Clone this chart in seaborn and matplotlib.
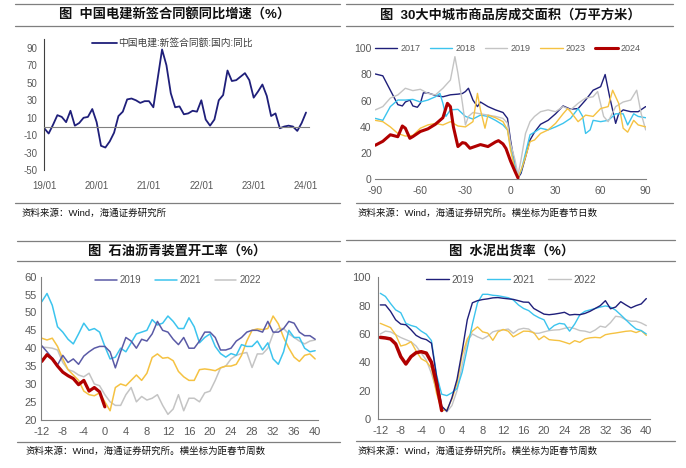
import matplotlib
matplotlib.use("Agg")
import matplotlib.pyplot as plt
import seaborn as sns
import pandas as pd
from matplotlib.lines import Line2D

sns.set_theme(style="white")
plt.rcParams["font.family"] = ["Liberation Sans", "Noto Sans CJK SC", "DejaVu Sans"]
plt.rcParams["axes.unicode_minus"] = False

# ---------------- data ----------------
# Panel 1: monthly YoY, 2019/01 .. 2024/01
p1_months = list(range(61))
p1_ticks = [0, 12, 24, 36, 48, 60]
p1_ticklabels = ["19/01", "20/01", "21/01", "22/01", "23/01", "24/01"]
p1_yoy = [-2, -8, 2, 13, 11, 5, 18, 1, 4, 10,
          11, 20, 5, -22, -24, -17, -7, 12, 17, 31,
          32, 30, 27, 29, 29, 22, 55, 88, 70, 38,
          22, 23, 14, 15, 18, 17, 30, 8, 1, 8,
          30, 36, 64, 52, 53, 57, 61, 53, 33, 40,
          48, 35, 12, 15, -2, 0, 1, 0, -5, 4, 16]

# Panel 2: 30-city housing transaction area vs. days from Spring Festival
d_2017 = [-90, -85, -80, -75, -72, -70, -67, -65, -62, -60, -58, -55, -50, -45, -40, -35, -32, -30, -28, -25,
          -22, -20, -15, -10, -5, -2, 0, 3, 5, 7, 10, 13, 16, 20, 25, 30, 35, 40, 45, 50,
          55, 60, 63, 66, 70, 72, 75, 80, 85, 90]
v_2017 = [80.4, 79, 68, 57, 56, 59, 60.5, 56, 55, 58, 66, 66, 64, 63, 64.5, 65, 65.5, 67, 69.5, 60.5,
          55.5, 59, 55.5, 53, 51, 46.5, 30, 10, 1, 4.6, 17, 30, 36, 42, 45, 50, 56, 53.5, 54, 60.5,
          68, 70.7, 80, 63, 42.7, 50, 53, 51.6, 51.6, 55.5]
d_2018 = [-90, -85, -80, -75, -70, -65, -60, -55, -50, -47, -45, -43, -40, -35, -30, -25, -20, -15, -10, -5,
          -2, 0, 3, 5, 7, 10, 13, 16, 20, 25, 30, 35, 40, 45, 48, 50, 53, 55, 60, 65,
          70, 75, 78, 82, 85, 90]
v_2018 = [46.5, 45, 55.5, 60.5, 60.5, 61, 59, 60.5, 63, 65.6, 58, 48, 53, 53.4, 48, 46, 49, 48, 45, 41.5,
          37.7, 25, 10, 2, 6, 20, 34, 36, 39, 37.7, 40, 42.7, 46.5, 54, 48, 35, 37.7, 45, 44, 45,
          50, 50, 41.5, 50, 48, 47]
d_2019 = [-90, -85, -80, -75, -70, -65, -60, -55, -50, -45, -40, -37, -35, -32, -30, -28, -25, -20, -15, -10,
          -5, -2, 0, 3, 5, 7, 10, 13, 16, 20, 25, 30, 35, 40, 45, 50, 55, 58, 62, 65,
          70, 75, 80, 84, 87, 90]
v_2019 = [53, 55.5, 62, 64.4, 69.5, 67.7, 68.7, 65.6, 64.4, 69.5, 75.8, 93.6, 81, 58, 41.5, 48, 51, 50, 49, 48,
          46.5, 42.7, 27.5, 14.8, 3.3, 14.8, 35, 44, 48, 51.6, 53, 51.6, 55.5, 53, 58, 62, 63, 67, 48, 44,
          55.5, 59, 60.5, 68, 50, 37.7]
d_2023 = [-90, -85, -80, -75, -70, -65, -60, -55, -50, -45, -40, -35, -30, -25, -22, -20, -17, -15, -10, -5,
          -2, 0, 3, 5, 8, 10, 13, 16, 20, 25, 30, 35, 38, 40, 45, 50, 55, 60, 65, 68,
          72, 75, 78, 82, 85, 90]
v_2023 = [45, 44, 40, 35, 33, 33.5, 39, 41.5, 42.7, 41.5, 44, 40.7, 40, 44, 65.6, 53, 39, 49, 47, 44,
          37.7, 22.4, 7, 1, 10, 17, 28.7, 30, 35, 37.7, 42.7, 50, 54, 51.6, 44, 49, 48, 54, 55.5, 68,
          58, 39, 36, 45, 41.5, 40]
d_2024 = [-90, -85, -80, -75, -72, -70, -67, -65, -60, -55, -50, -45, -42, -40, -38, -35, -32, -30, -27, -25,
          -20, -15, -10, -8, -5, -3, 0, 3, 5]
v_2024 = [26, 29, 34, 32.5, 40.7, 39, 31.3, 32.6, 36.5, 38.5, 42, 47, 58, 55.5, 40, 25, 28, 27.5, 23.7, 24.5,
          26.5, 25, 28.5, 29.5, 27, 23.5, 14, 6, 1]

# Panel 3: asphalt plant operating rate vs. weeks from Spring Festival
weeks = list(range(-12, 41))
weeks_2024 = list(range(-12, 1))
asph_2019 = [40.7, 39, 37.2, 35.3, 38, 36, 37, 35.5, 37.8, 39, 40, 40.5, 40.5,
             39, 34.5, 39, 43, 42, 40, 42.5, 42, 44, 47.5,
             45, 44.5, 42.5, 41, 43, 40, 40, 42, 44.5, 44.5,
             43, 39.5, 39.5, 40, 42, 43, 44.5, 45, 45, 44.5,
             47.5, 44.5, 44.5, 45.5, 47.5, 47, 44.5, 43.5, 43.5, 42.5]
asph_2021 = [53, 55.3, 52, 46, 44.5, 42.5, 41.2, 44, 47, 45, 45.5, 44.5, 40.5,
             37, 37.5, 40, 39, 41.5, 44, 44.5, 45, 48, 46.5,
             47, 49, 47.5, 45.5, 45.5, 48.5, 46, 41.5, 43, 44,
             40.5, 38.5, 37.5, 38.5, 38, 41, 40.5, 40.5, 42, 39.5,
             41.5, 37, 35.5, 39, 45, 43, 43, 40, 39, 39.3]
asph_2022 = [40.3, 40.2, 40, 39.5, 36, 34, 33.5, 32.5, 32, 33, 30, 29.5, 27,
             25, 24, 24, 27, 29, 25, 26.5, 25.5, 26, 27,
             24, 21.5, 23, 27, 22.5, 26, 26, 25, 27.5, 28,
             31, 34.5, 35, 37, 38, 38.5, 38.8, 34.6, 38.4, 38.4,
             40, 44, 45.5, 45.5, 44, 43, 42, 41.2, 42, 42.3]
asph_2023 = [42.8, 42.3, 42.8, 40.5, 37, 34, 32.5, 31, 28, 27, 26.7, 27.5, 25,
             22.5, 29, 30, 29.5, 31, 32.5, 31, 33, 37.4, 38.4,
             37.2, 37.4, 36.5, 33.5, 32, 31, 31, 34, 34.2, 34,
             33.7, 34.5, 35, 35, 35.5, 38, 42, 45, 45.4, 45.2,
             45.5, 49, 46.8, 43, 40, 37.5, 36.3, 38, 38.4, 37]
asph_2024 = [36.3, 38.2, 37, 35, 33.3, 32.3, 31.5, 29.8, 31, 28, 29, 27.8, 23.6]

# Panel 4: cement shipment rate vs. weeks from Spring Festival
cem_2019 = [80.5, 80.5, 76, 70, 67, 66.5, 63, 59, 57, 56, 53.5, 30, 9,
            5.5, 15, 28, 48, 70, 82, 83.5, 84.3, 84.8, 85.5,
            85.7, 85.2, 84.8, 84.4, 83.5, 82.5, 82.4, 78, 76, 74,
            73.6, 74, 74.6, 75.3, 73.4, 73.8, 73.6, 74.5, 76, 78,
            80, 83.5, 77.8, 79, 82.8, 80.5, 78.4, 80, 81.2, 85]
cem_2021 = [88.7, 86.5, 81.5, 77, 75, 67.5, 66, 65, 62, 59.8, 55.3, 31, 17.5,
            16.5, 18.5, 21.5, 33, 50, 67, 82, 88, 88, 87.3,
            87, 86.3, 85.6, 84, 80.5, 78, 76.5, 73.5, 71.5, 70,
            63, 66, 67.5, 67, 62, 67, 73.5, 76, 77, 78,
            79, 79.8, 79, 76.8, 73.5, 70, 66.5, 63.5, 62.4, 60]
cem_2022 = [60, 62, 61.5, 59.5, 57.5, 56, 54.5, 51.5, 46.5, 41.5, 32, 20, 9,
            5, 9.5, 20, 38, 55, 60, 58, 56.5, 58.5, 61.5,
            62.5, 62.8, 63.5, 60.5, 63.2, 64, 63.5, 60.5, 60.5, 61.5,
            62.4, 62.8, 63, 64, 64.7, 63.8, 62.4, 62, 61, 62.8,
            65.5, 64.7, 68, 72.5, 72, 70, 69, 69, 67.8, 65.9]
cem_2023 = [67.5, 66, 64.5, 59.5, 51.5, 52.5, 54.5, 48, 42.5, 40.5, 36, 18, 6,
            6.5, 14, 25, 45, 56.5, 62, 65, 61.5, 60.6, 55.5,
            61.5, 63.2, 62, 58, 60, 62, 61.9, 61, 56, 58.5,
            56, 55.6, 55.3, 54.2, 53, 55.3, 54.1, 56.5, 57.3, 57.6,
            57.3, 59.5, 60.2, 60.7, 61.3, 61.9, 62.2, 61, 62.4, 59]
cem_2024 = [57.6, 57.2, 56.5, 53, 44, 38.8, 44, 46.8, 47.5, 46.5, 40, 25, 6]

titles = ["图  中国电建新签合同额同比增速（%）",
          "图  30大中城市商品房成交面积（万平方米）",
          "图  石油沥青装置开工率（%）",
          "图  水泥出货率（%）"]
sources = ["资料来源：Wind，海通证券研究所",
           "资料来源：Wind，海通证券研究所。横坐标为距春节日数",
           "资料来源：Wind，海通证券研究所。横坐标为距春节周数",
           "资料来源：Wind，海通证券研究所。横坐标为距春节周数"]

NAVY = "#1F1F7A"
CYAN = "#3CC4EE"
GREY = "#C4C4C4"
GOLD = "#F5C242"
RED = "#B00000"
PURP = "#5A5AA6"
TXT = "#595959"
RULE = "#7F7F7F"

W, H = 686, 468
fig = plt.figure(figsize=(6.86, 4.68), dpi=100)


def fx(px):
    return px / W


def fy(py):
    return 1 - py / H


def rule(x0, x1, y):
    fig.add_artist(Line2D([fx(x0), fx(x1)], [fy(y), fy(y)], color=RULE, lw=0.9))


# decorations: rules, titles, sources
rule(15, 340, 4); rule(15, 340, 26); rule(15, 340, 203)
rule(346, 673, 4); rule(346, 673, 26); rule(356, 673, 203)
rule(17, 340, 241); rule(17, 340, 261); rule(17, 340, 442)
rule(346, 675, 240); rule(346, 675, 261); rule(356, 675, 441)
for (tx, ty), t in zip([(175, 15), (510, 15), (177, 251), (512, 251)], titles):
    fig.text(fx(tx), fy(ty), t, ha="center", va="center", fontsize=9.5, fontweight="bold", color="#111111")
for (sx, sy), s in zip([(22, 213), (358, 213), (25, 451), (358, 451)], sources):
    fig.text(fx(sx), fy(sy), s, ha="left", va="center", fontsize=6.8, color="#111111")

# ---------------- panel 1 ----------------
ax1 = fig.add_axes([fx(44.3), 1 - 170.3 / H, 264.2 / W, 131.3 / H])
sns.lineplot(x=p1_months, y=p1_yoy, ax=ax1, color=NAVY, lw=1.3, label="中国电建:新签合同额:国内:同比")
ax1.set_xlim(0, 60.57)
ax1.set_ylim(-50, 100)
ax1.set_yticks(range(-50, 91, 20))
ax1.set_xticks(p1_ticks)
ax1.set_xticklabels(p1_ticklabels)
for s in ["top", "right"]:
    ax1.spines[s].set_visible(False)
ax1.spines["left"].set_color("#404040")
ax1.spines["left"].set_linewidth(0.8)
ax1.spines["bottom"].set_position(("data", 0))
ax1.spines["bottom"].set_color("#808080")
ax1.spines["bottom"].set_linewidth(0.8)
ax1.tick_params(axis="y", direction="out", length=3, width=0.8, color="#404040", labelsize=7, labelcolor=TXT, pad=2)
ax1.tick_params(axis="x", direction="out", length=3, width=0.8, color="#808080", labelsize=7, labelcolor=TXT, pad=36)
ax1.set_xlabel(""); ax1.set_ylabel("")
ax1.legend(loc="center left", bbox_to_anchor=(0.18, 0.97), frameon=False, fontsize=7,
           handlelength=2.6, handletextpad=0.15, borderpad=0, borderaxespad=0, labelcolor="#404040")

# ---------------- panel 2 ----------------
ax2 = fig.add_axes([fx(375.3), 1 - 179.3 / H, 270.4 / W, 131 / H])
p2 = [(d_2017, v_2017, "2017", NAVY, 1.0), (d_2018, v_2018, "2018", CYAN, 1.0),
      (d_2019, v_2019, "2019", GREY, 1.0), (d_2023, v_2023, "2023", GOLD, 1.0),
      (d_2024, v_2024, "2024", RED, 2.2)]
for d, v, lab, c, lw in p2:
    sns.lineplot(x=d, y=v, ax=ax2, color=c, lw=lw, label=lab)
ax2.set_xlim(-90, 90)
ax2.set_ylim(0, 100)
ax2.set_xticks(range(-90, 91, 30))
ax2.set_yticks(range(0, 101, 20))
for s in ["top", "right", "left"]:
    ax2.spines[s].set_visible(False)
ax2.spines["bottom"].set_color("#808080")
ax2.spines["bottom"].set_linewidth(0.8)
ax2.tick_params(axis="y", length=0, labelsize=7.5, labelcolor=TXT, pad=2.6)
ax2.tick_params(axis="x", direction="out", length=3, width=0.8, color="#808080", labelsize=7.5, labelcolor=TXT, pad=2)
ax2.set_xlabel(""); ax2.set_ylabel("")
ax2.legend(loc="center left", bbox_to_anchor=(0.0, 0.995), ncol=5, frameon=False, fontsize=6.5,
           handlelength=2.45, handletextpad=0.33, columnspacing=1.1, borderpad=0, borderaxespad=0,
           labelcolor=TXT)

# ---------------- panel 3 ----------------
ax3 = fig.add_axes([fx(40.7), 48.3 / H, 277.6 / W, 143 / H])
p3 = [(weeks, asph_2022, "2022", GREY, 1.1), (weeks, asph_2023, "_2023", GOLD, 1.1),
      (weeks, asph_2021, "2021", CYAN, 1.1), (weeks, asph_2019, "2019", PURP, 1.1),
      (weeks_2024, asph_2024, "_2024", RED, 2.3)]
for w, v, lab, c, lw in p3:
    sns.lineplot(x=w, y=v, ax=ax3, color=c, lw=lw, label=lab)
ax3.set_xlim(-12.2, 40.6)
ax3.set_ylim(20, 60)
ax3.set_xticks(range(-12, 41, 4))
ax3.set_yticks(range(20, 61, 5))
for s in ["top", "right"]:
    ax3.spines[s].set_visible(False)
for s in ["left", "bottom"]:
    ax3.spines[s].set_color("#808080")
    ax3.spines[s].set_linewidth(0.8)
ax3.tick_params(axis="y", direction="out", length=0, labelsize=8, labelcolor=TXT, pad=3)
ax3.tick_params(axis="x", direction="out", length=3, width=0.8, color="#808080", labelsize=8, labelcolor=TXT, pad=2)
ax3.set_xlabel(""); ax3.set_ylabel("")
h3, l3 = ax3.get_legend_handles_labels()
order3 = [l3.index("2019"), l3.index("2021"), l3.index("2022")]
ax3.legend([h3[i] for i in order3], [l3[i] for i in order3], loc="center left", bbox_to_anchor=(0.1956, 0.977),
           ncol=3, frameon=False, fontsize=7, handlelength=2.23, handletextpad=0.34, columnspacing=1.37,
           borderpad=0, borderaxespad=0, labelcolor=TXT)

# ---------------- panel 4 ----------------
ax4 = fig.add_axes([fx(378), 49 / H, 271.7 / W, 141.7 / H])
p4 = [(weeks, cem_2022, "2022", GREY, 1.0), (weeks, cem_2023, "_2023", GOLD, 1.0),
      (weeks, cem_2021, "2021", CYAN, 1.0), (weeks, cem_2019, "2019", NAVY, 1.0),
      (weeks_2024, cem_2024, "_2024", RED, 2.5)]
for w, v, lab, c, lw in p4:
    sns.lineplot(x=w, y=v, ax=ax4, color=c, lw=lw, label=lab)
ax4.set_xlim(-12.45, 40.66)
ax4.set_ylim(0, 100)
ax4.set_xticks(range(-12, 41, 4))
ax4.set_yticks(range(0, 101, 20))
for s in ["top", "right"]:
    ax4.spines[s].set_visible(False)
for s in ["left", "bottom"]:
    ax4.spines[s].set_color("#808080")
    ax4.spines[s].set_linewidth(0.8)
ax4.tick_params(axis="y", direction="out", length=3, width=0.8, color="#808080", labelsize=8, labelcolor=TXT, pad=2)
ax4.tick_params(axis="x", direction="out", length=3, width=0.8, color="#808080", labelsize=8, labelcolor=TXT, pad=2)
ax4.set_xlabel(""); ax4.set_ylabel("")
h4, l4 = ax4.get_legend_handles_labels()
order4 = [l4.index("2019"), l4.index("2021"), l4.index("2022")]
ax4.legend([h4[i] for i in order4], [l4[i] for i in order4], loc="center left", bbox_to_anchor=(0.1756, 0.981),
           ncol=3, frameon=False, fontsize=7.2, handlelength=2.33, handletextpad=0.25, columnspacing=1.26,
           borderpad=0, borderaxespad=0, labelcolor=TXT)

fig.savefig("out.png", dpi=100, facecolor="white")
